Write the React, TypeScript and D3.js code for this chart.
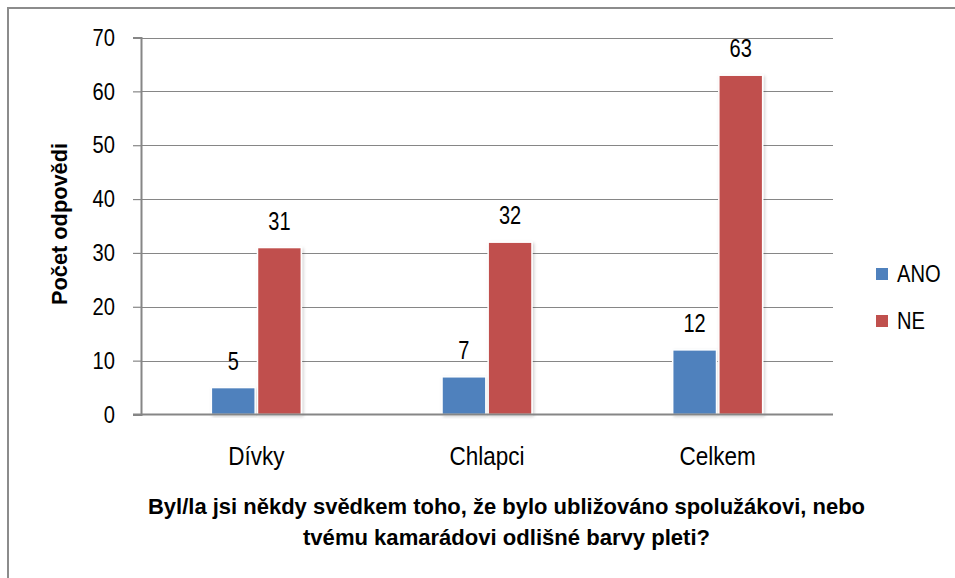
import React, { useRef, useEffect } from 'react';
import { select, scaleLinear, scaleBand, axisLeft, range } from 'd3';

const categories = ['Dívky', 'Chlapci', 'Celkem'];
const seriesNames = ['ANO', 'NE'];
const anoValues = [5, 7, 12];
const neValues = [31, 32, 63];
const yTicks = [0, 10, 20, 30, 40, 50, 60, 70];
const colors = ['#4f81bd', '#c0504d'];
const yTitle = 'Počet odpovědi';
const xTitleLines = [
  'Byl/la jsi někdy svědkem toho, že bylo ubližováno spolužákovi, nebo',
  'tvému kamarádovi odlišné barvy pleti?',
];

const W = 955;
const H = 578;
const FONT = "'Liberation Sans', Arial, sans-serif";
// the original text looks squeezed sideways, so glyphs get a narrow scale
const SQ = 0.84;

const BarChart = () => {
  const svgRef = useRef(null);

  useEffect(() => {
    const svg = select(svgRef.current);
    svg.selectAll('*').remove();

    const defs = svg.append('defs');
    const f = defs
      .append('filter')
      .attr('id', 'shadow')
      .attr('x', '-20%')
      .attr('y', '-10%')
      .attr('width', '140%')
      .attr('height', '120%');
    f.append('feDropShadow')
      .attr('dx', 1.5)
      .attr('dy', 1.5)
      .attr('stdDeviation', 1.5)
      .attr('flood-color', '#000')
      .attr('flood-opacity', 0.18);

    svg.append('rect').attr('width', W).attr('height', H).attr('fill', '#fff');

    // frame (only top and left edge are visible)
    svg
      .append('path')
      .attr('d', `M8,${H} L8,8 L${W},8`)
      .attr('fill', 'none')
      .attr('stroke', '#8c8c8c')
      .attr('stroke-width', 2);

    const x0 = 141;
    const x1 = 833;
    const yScale = scaleLinear().domain([0, 70]).range([414.5, 37.5]);
    const xScale = scaleBand()
      .domain(categories)
      .range([x0, x1])
      .paddingInner(0.61)
      .paddingOuter(0.305);
    const inner = scaleBand()
      .domain(seriesNames)
      .range([0, xScale.bandwidth()])
      .paddingInner(0.05);

    // gridlines
    svg
      .append('g')
      .selectAll('line')
      .data(yTicks.filter((t) => t > 0))
      .join('line')
      .attr('x1', x0)
      .attr('x2', x1)
      .attr('y1', (d) => Math.round(yScale(d)) + 0.5)
      .attr('y2', (d) => Math.round(yScale(d)) + 0.5)
      .attr('stroke', '#868686')
      .attr('stroke-width', 1.2);

    // y axis
    const yAxis = axisLeft(yScale).tickValues(yTicks).tickSize(8);
    const gy = svg.append('g').attr('transform', `translate(${x0},0)`).call(yAxis);
    gy.select('.domain').attr('stroke', '#868686').attr('stroke-width', 2);
    gy.selectAll('.tick line').attr('stroke', '#868686').attr('stroke-width', 1.2);
    gy.selectAll('.tick text')
      .attr('x', 0)
      .attr('transform', `translate(-26,0) scale(${SQ},1)`)
      .attr('font-family', FONT)
      .attr('font-size', 24)
      .attr('fill', '#000');

    // bars
    const seriesData = [anoValues, neValues];
    const rows = (s, si) => categories.map((c, ci) => ({ c, s, v: seriesData[si][ci] }));
    const groups = svg
      .append('g')
      .selectAll('g')
      .data(seriesNames)
      .join('g')
      .attr('fill', (d, i) => colors[i]);

    groups
      .selectAll('rect')
      .data(rows)
      .join('rect')
      .attr('x', (d) => xScale(d.c) + inner(d.s))
      .attr('y', (d) => yScale(d.v))
      .attr('width', inner.bandwidth())
      .attr('height', (d) => yScale(0) - yScale(d.v))
      .attr('stroke', '#fff')
      .attr('stroke-width', 1.5)
      .attr('filter', 'url(#shadow)');

    // zero line on top
    svg
      .append('line')
      .attr('x1', x0 - 8)
      .attr('x2', x1)
      .attr('y1', yScale(0))
      .attr('y2', yScale(0))
      .attr('stroke', '#868686')
      .attr('stroke-width', 2);

    // value labels
    groups
      .selectAll('text')
      .data(rows)
      .join('text')
      .attr(
        'transform',
        (d) =>
          `translate(${xScale(d.c) + inner(d.s) + inner.bandwidth() / 2},${yScale(d.v) - 18}) scale(0.8,1)`
      )
      .attr('text-anchor', 'middle')
      .attr('font-family', FONT)
      .attr('font-size', 25)
      .attr('fill', '#000')
      .text((d) => d.v);

    // category labels
    svg
      .append('g')
      .selectAll('text')
      .data(categories)
      .join('text')
      .attr('transform', (d) => `translate(${xScale(d) + xScale.bandwidth() / 2},465) scale(0.9,1)`)
      .attr('text-anchor', 'middle')
      .attr('font-family', FONT)
      .attr('font-size', 25)
      .attr('fill', '#000')
      .text((d) => d);

    // axis titles
    svg
      .append('text')
      .attr('transform', 'translate(67,224) rotate(-90)')
      .attr('text-anchor', 'middle')
      .attr('font-family', FONT)
      .attr('font-size', 22)
      .attr('font-weight', 'bold')
      .attr('textLength', 162)
      .attr('lengthAdjust', 'spacingAndGlyphs')
      .text(yTitle);

    const titleLens = [717, 407];
    svg
      .append('g')
      .selectAll('text')
      .data(xTitleLines)
      .join('text')
      .attr('x', 506.5)
      .attr('y', (d, i) => 514 + i * 31)
      .attr('text-anchor', 'middle')
      .attr('font-family', FONT)
      .attr('font-size', 22)
      .attr('font-weight', 'bold')
      .attr('textLength', (d, i) => titleLens[i])
      .attr('lengthAdjust', 'spacingAndGlyphs')
      .text((d) => d);

    // legend
    const lg = svg
      .append('g')
      .selectAll('g')
      .data(range(seriesNames.length))
      .join('g')
      .attr('transform', (i) => `translate(876,${268 + i * 47})`);
    lg.append('rect').attr('width', 12).attr('height', 12).attr('fill', (i) => colors[i]);
    lg.append('text')
      .attr('transform', `translate(21,14) scale(${SQ},1)`)
      .attr('font-family', FONT)
      .attr('font-size', 24)
      .attr('fill', '#000')
      .text((i) => seriesNames[i]);
  }, []);

  return (
    <svg
      ref={svgRef}
      width={W}
      height={H}
      style={{ position: 'absolute', left: 0, top: 0 }}
    />
  );
};

export default function App() {
  return <BarChart />;
}
